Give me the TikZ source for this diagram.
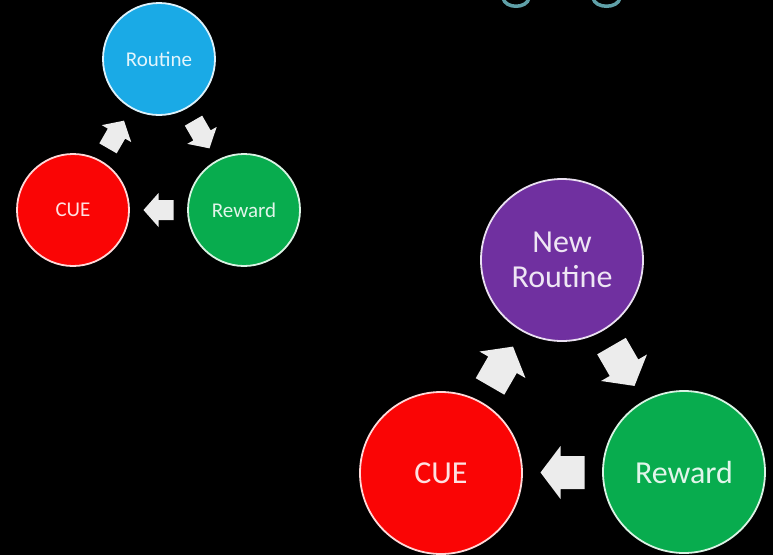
\documentclass[tikz,border=0pt]{standalone}
\usepackage{fontspec}
\setmainfont{Carlito}
\usetikzlibrary{calc}
\definecolor{cblue}{RGB}{26,170,230}
\definecolor{cred}{RGB}{250,5,5}
\definecolor{cgreen}{RGB}{8,172,78}
\definecolor{cpurple}{RGB}{112,48,160}
\definecolor{arrowgray}{RGB}{236,236,236}
\definecolor{titleteal}{RGB}{95,160,168}
\tikzset{
  circ/.style={circle, draw=white!85!#1, fill=#1, line width=1.8pt,
    text=white!88!#1, inner sep=0pt, align=center},
  smallc/.style={circ=#1, minimum size=112pt, font=\fontsize{21}{24}\selectfont},
  bigc/.style={circ=#1, minimum size=162pt, font=\fontsize{32}{35}\selectfont},
  pics/blockarrow/.style n args={4}{code={
    \fill[arrowgray] (-#1/2,-#3/2) -- ({#1/2-#4},-#3/2) -- ({#1/2-#4},-#2/2)
      -- (#1/2,0) -- ({#1/2-#4},#2/2) -- ({#1/2-#4},#3/2) -- (-#1/2,#3/2) -- cycle;
  }},
  titlefrag/.style={draw=titleteal, line width=3.5pt, line cap=round}
}
\begin{document}
\begin{tikzpicture}[x=1pt,y=-1pt]
\useasboundingbox (0,0) rectangle (773,555);
\fill[black] (0,0) rectangle (773,555);
% cropped title fragments
\path[titlefrag] (503,-2) .. controls (505,9) and (527,9) .. (529,-2);
\path[titlefrag] (593,-2) .. controls (595,9) and (618,9) .. (620,-2);
% small cycle
\node[smallc=cblue] (rout1) at (159,59) {Routine};
\node[smallc=cred] (cue1) at (73,210) {CUE};
\node[smallc=cgreen] (rew1) at (244,210) {Reward};
\path ($(cue1)!0.5!(rout1)$) pic[rotate=60] {blockarrow={32}{34}{20}{15}};
\path ($(rout1)!0.5!(rew1)$) pic[rotate=-60] {blockarrow={32}{34}{20}{15}};
\path ($(rew1)!0.5!(cue1)$) pic[rotate=180] {blockarrow={30}{34}{20}{15}};
% big cycle
\node[bigc=cpurple] (nr) at (562,260) {New\\Routine};
\node[bigc=cred] (cue2) at (441,473) {CUE};
\node[bigc=cgreen] (rew2) at (684,472) {Reward};
\path ($(cue2)!0.5!(nr)$) pic[rotate=60] {blockarrow={46}{53}{33}{21}};
\path ($(nr)!0.5!(rew2)$) pic[rotate=-60] {blockarrow={46}{53}{33}{21}};
\path ($(rew2)!0.5!(cue2)$) pic[rotate=180] {blockarrow={44}{53}{33}{20}};
\end{tikzpicture}
\end{document}
